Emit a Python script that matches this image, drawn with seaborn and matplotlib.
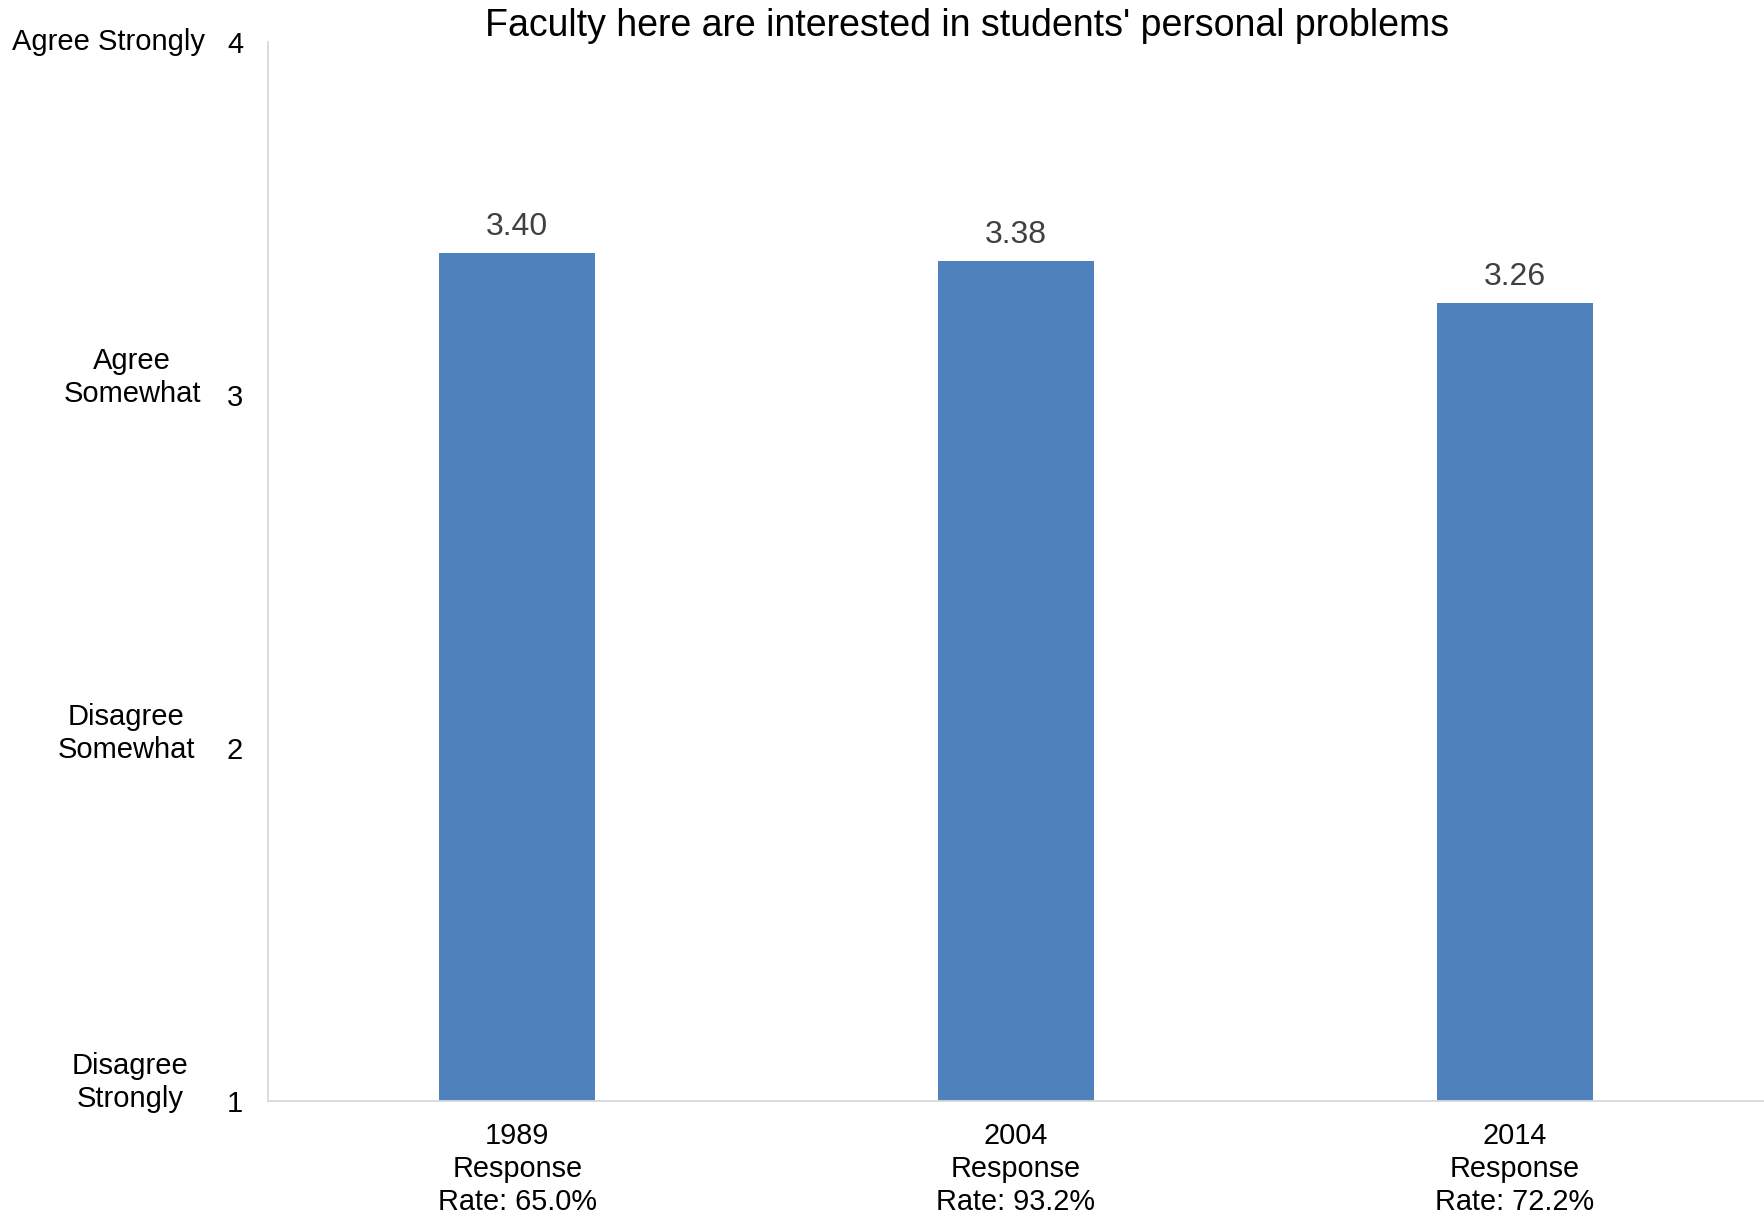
import matplotlib
matplotlib.use("Agg")
import matplotlib.pyplot as plt
import matplotlib.transforms as mtransforms
import seaborn as sns
import pandas as pd

# Survey item means by year
years = ["1989", "2004", "2014"]
response_rates = ["65.0%", "93.2%", "72.2%"]
means = [3.40, 3.38, 3.26]

# Likert scale anchors
scale_values = [1, 2, 3, 4]
scale_names = ["Disagree\nStrongly", "Disagree\nSomewhat", "Agree\nSomewhat", "Agree Strongly"]

title = "Faculty here are interested in students' personal problems"

sns.set_theme(style="white")
plt.rcParams["font.family"] = ["Liberation Sans", "DejaVu Sans"]

labels = [f"{y}\nResponse\nRate: {r}" for y, r in zip(years, response_rates)]
df = pd.DataFrame({"label": labels, "mean": means})

W, H = 1764, 1216
fig = plt.figure(figsize=(W / 100, H / 100), dpi=100)
ax = fig.add_axes([268 / W, 1 - 1101 / H, (W - 268) / W, (1101 - 41.6) / H])

sns.barplot(data=df, x="label", y="mean", color="#4f81bd", saturation=1,
            width=0.313, ax=ax)

# bars start at the bottom of the scale
for patch, m in zip(ax.patches, means):
    patch.set_y(1)
    patch.set_height(m - 1)
    patch.set_linewidth(0)

ax.set_ylim(1, 4)
ax.set_xlim(-0.5, 2.5)
ax.set_xlabel("")
ax.set_ylabel("")
ax.set_yticks(scale_values)
ax.set_yticklabels([str(v) for v in scale_values], fontsize=21, color="black")

for lab in ax.get_xticklabels():
    lab.set_fontsize(20.8)
    lab.set_color("black")
    lab.set_linespacing(1.22)

ax.tick_params(axis="x", length=0, pad=15)
ax.tick_params(axis="y", length=8, width=1, color="#d9d9d9", pad=10)

sns.despine(ax=ax, top=True, right=True)
for side in ("left", "bottom"):
    ax.spines[side].set_color("#d9d9d9")
    ax.spines[side].set_linewidth(1.3)

# value labels above each bar
for i, m in enumerate(means):
    ax.annotate(f"{m:.2f}", xy=(i, m), xytext=(0, 26), textcoords="offset pixels",
                ha="center", va="center", fontsize=23, color="#404040")

# scale anchor names beside the numeric ticks
trans = mtransforms.blended_transform_factory(fig.transFigure, ax.transData)
name_pos = [(130, 1.052), (126, 2.04), (132, 3.049), (109, 4.0)]
for name, (px, yv) in zip(scale_names, name_pos):
    fig.text(px / W, yv, name, transform=trans, ha="center", va="center",
             fontsize=21, color="black", multialignment="center", linespacing=1.22)

fig.text(967 / W, 1 - 26 / H, title, ha="center", va="center", fontsize=27, color="black")

fig.savefig("out.png", dpi=100, facecolor="white")
